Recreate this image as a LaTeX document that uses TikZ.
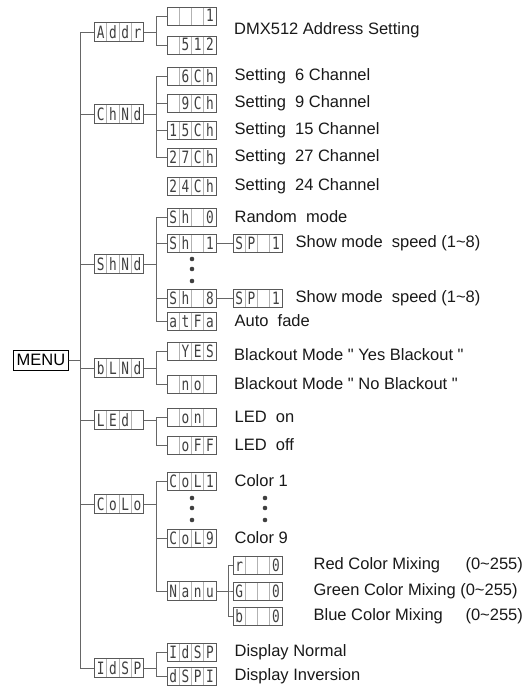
\documentclass[tikz,border=0pt]{standalone}
\usepackage{fontspec}
\setmainfont{Liberation Sans}
\newfontfamily\lcdfont[FakeStretch=0.75]{DejaVu Sans Mono}
\usetikzlibrary{positioning}

\newcommand{\lcd}[4]{\makebox[12.25pt]{#1}\makebox[12.25pt]{#2}\makebox[12.25pt]{#3}\makebox[12.25pt]{#4}}

\begin{document}
\begin{tikzpicture}[x=1pt,y=-1pt,thin]
\tikzstyle{lcd}=[rectangle,draw=black!65,line width=0.8pt,fill=white,minimum width=49pt,minimum height=18pt,inner sep=0pt,
  font=\lcdfont\fontsize{17}{17}\selectfont,text=black!75,text height=12pt,text depth=0pt,
  path picture={\foreach \k in {1,2,3}{\draw[black!30,line width=0.6pt] ([xshift=\k*12.25pt]path picture bounding box.south west) -- ([xshift=\k*12.25pt]path picture bounding box.north west);}}]
\tikzstyle{top}=[lcd,minimum height=19pt]
\tikzstyle{desc}=[inner sep=0pt,anchor=west,font=\fontsize{16.5}{19}\selectfont,text=black!90]
\tikzstyle{wire}=[draw=black!60,line width=0.8pt]
\tikzstyle{branch}=[to path={-- ++(12pt,0) |- (\tikztotarget)}]
\tikzstyle{dot}=[fill=black!75]

\useasboundingbox (0,0) rectangle (529,693);

% root
\node[draw=black,line width=0.8pt,inner sep=3pt,minimum height=20pt,font=\fontsize{16.5}{19}\selectfont] (menu) at (41,360) {MENU};

% first level
\node[top] (addr) at (119,32)  {\lcd{A}{d}{d}{r}};
\node[top] (chnd) at (119,114) {\lcd{C}{h}{N}{d}};
\node[top] (shnd) at (119,264) {\lcd{S}{h}{N}{d}};
\node[top] (blnd) at (119,368) {\lcd{b}{L}{N}{d}};
\node[top] (led)  at (119,420) {\lcd{L}{E}{d}{}};
\node[top] (colo) at (119,504) {\lcd{C}{o}{L}{o}};
\node[top] (idsp) at (119,668) {\lcd{I}{d}{S}{P}};

% second level
\node[lcd] (a1)   at (191.5,16)  {\lcd{}{}{}{1}};
\node[lcd] (a2)   at (191.5,45)  {\lcd{}{5}{1}{2}};
\node[lcd] (c6)   at (191.5,76)  {\lcd{}{6}{C}{h}};
\node[lcd] (c9)   at (191.5,103) {\lcd{}{9}{C}{h}};
\node[lcd] (c15)  at (191.5,130) {\lcd{1}{5}{C}{h}};
\node[lcd] (c27)  at (191.5,157) {\lcd{2}{7}{C}{h}};
\node[lcd] (c24)  at (191.5,186) {\lcd{2}{4}{C}{h}};
\node[lcd] (s0)   at (191.5,217) {\lcd{S}{h}{}{0}};
\node[lcd] (s1)   at (191.5,243) {\lcd{S}{h}{}{1}};
\node[lcd] (s8)   at (191.5,298) {\lcd{S}{h}{}{8}};
\node[lcd] (af)   at (191.5,321) {\lcd{a}{t}{F}{a}};
\node[lcd] (yes)  at (191.5,351) {\lcd{}{Y}{E}{S}};
\node[lcd] (no)   at (191.5,384) {\lcd{}{n}{o}{}};
\node[lcd] (on)   at (191.5,417) {\lcd{}{o}{n}{}};
\node[lcd] (off)  at (191.5,445) {\lcd{}{o}{F}{F}};
\node[lcd] (col1) at (191.5,481) {\lcd{C}{o}{L}{1}};
\node[lcd] (col9) at (191.5,538) {\lcd{C}{o}{L}{9}};
\node[top] (manu) at (191.5,591) {\lcd{N}{a}{n}{u}};
\node[lcd] (d1)   at (191.5,652) {\lcd{I}{d}{S}{P}};
\node[lcd] (d2)   at (191.5,676) {\lcd{d}{S}{P}{I}};

% third level
\node[lcd] (sp1) at (257.5,243) {\lcd{S}{P}{}{1}};
\node[lcd] (sp8) at (257.5,298) {\lcd{S}{P}{}{1}};
\node[lcd] (rr)  at (257.5,565) {\lcd{r}{}{}{0}};
\node[lcd] (gg)  at (257.5,591) {\lcd{G}{}{}{0}};
\node[lcd] (bb)  at (257.5,616) {\lcd{b}{}{}{0}};

% descriptions
\node[desc] (tdmx) at (234,30) {DMX512 Address Setting};
\node[desc,right=18pt of c6]  (t6)  {Setting\ \ 6 Channel};
\node[desc,right=18pt of c9]  (t9)  {Setting\ \ 9 Channel};
\node[desc,right=18pt of c15] (t15) {Setting\ \ 15 Channel};
\node[desc,right=18pt of c27] (t27) {Setting\ \ 27 Channel};
\node[desc,right=18pt of c24] (t24) {Setting\ \ 24 Channel};
\node[desc,right=18pt of s0]  (trnd) {Random\ \ mode};
\node[desc,right=13pt of sp1] (tsp1) {Show mode\ \ speed (1\textasciitilde8)};
\node[desc,right=13pt of sp8] (tsp8) {Show mode\ \ speed (1\textasciitilde8)};
\node[desc,right=18pt of af]  (taf)  {Auto\ \ fade};
\node[desc] (tyes) at (234,355) {Blackout Mode \textquotedbl\ Yes Blackout \textquotedbl};
\node[desc] (tno)  at (234,384) {Blackout Mode \textquotedbl\ No Blackout \textquotedbl};
\node[desc,right=18pt of on]   (ton)  {LED\ \ on};
\node[desc,right=18pt of off]  (toff) {LED\ \ off};
\node[desc,right=18pt of col1] (tc1)  {Color 1};
\node[desc,right=18pt of col9] (tc9)  {Color 9};
\node[desc,right=31pt of rr] (tr) {\makebox[152pt][l]{Red Color Mixing}(0\textasciitilde255)};
\node[desc,right=31pt of gg] (tg) {Green Color Mixing (0\textasciitilde255)};
\node[desc,right=31pt of bb] (tb) {\makebox[152pt][l]{Blue Color Mixing}(0\textasciitilde255)};
\node[desc,right=18pt of d1] (tdn) {Display Normal};
\node[desc,right=18pt of d2] (tdi) {Display Inversion};

% dots
\foreach \y in {259,269,281} \fill[dot] (192,\y) circle (2.3pt);
\foreach \y in {498,508,520} {\fill[dot] (192,\y) circle (2.3pt); \fill[dot] (265,\y) circle (2.3pt);}

\path[wire]
(menu.east) edge[branch] (addr.west)
(menu.east) edge[branch] (chnd.west)
(menu.east) edge[branch] (shnd.west)
(menu.east) edge[branch] (blnd.west)
(menu.east) edge[branch] (led.west)
(menu.east) edge[branch] (colo.west)
(menu.east) edge[branch] (idsp.west)
(addr.east) edge[branch] (a1.west)
(addr.east) edge[branch] (a2.west)
(chnd.east) edge[branch] (c6.west)
(chnd.east) edge[branch] (c9.west)
(chnd.east) edge[branch] (c15.west)
(chnd.east) edge[branch] (c27.west)
(shnd.east) edge[branch] (s0.west)
(shnd.east) edge[branch] (s1.west)
(shnd.east) edge[branch] (s8.west)
(shnd.east) edge[branch] (af.west)
(s1.east) edge (sp1.west)
(s8.east) edge (sp8.west)
(blnd.east) edge[branch] (yes.west)
(blnd.east) edge[branch] (no.west)
(led.east) edge[branch] (on.west)
(led.east) edge[branch] (off.west)
(colo.east) edge[branch] (col1.west)
(colo.east) edge[branch] (col9.west)
(colo.east) edge[branch] (manu.west)
(manu.east) edge[branch] (rr.west)
(manu.east) edge[branch] (gg.west)
(manu.east) edge[branch] (bb.west)
(idsp.east) edge[branch] (d1.west)
(idsp.east) edge[branch] (d2.west);
\end{tikzpicture}
\end{document}
